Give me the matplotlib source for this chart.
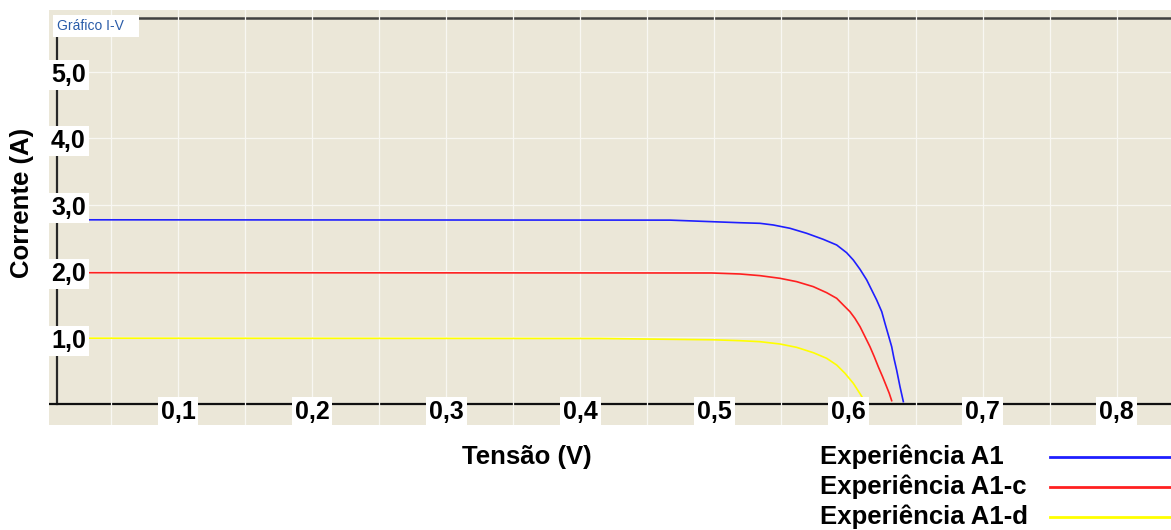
import matplotlib
matplotlib.use("Agg")
import matplotlib.pyplot as plt
from matplotlib.lines import Line2D
from matplotlib.patches import Rectangle
from matplotlib.transforms import offset_copy, blended_transform_factory

# I-V curves (tensão em V, corrente em A)
v_a1 = [0.01, 0.467, 0.5191, 0.5340, 0.5439, 0.5564, 0.5688, 0.5812, 0.5912, 0.5986, 0.6036,
        0.6086, 0.6136, 0.6173, 0.6210, 0.6248, 0.6272, 0.6297, 0.6322, 0.6339, 0.6359,
        0.6384, 0.6409]
i_a1 = [2.77, 2.765, 2.726, 2.717, 2.692, 2.642, 2.567, 2.476, 2.391, 2.275, 2.165,
        2.025, 1.865, 1.714, 1.564, 1.388, 1.213, 1.038, 0.862, 0.687, 0.511,
        0.261, 0.035]

v_a1c = [0.01, 0.498, 0.5191, 0.5340, 0.5489, 0.5613, 0.5737, 0.5837, 0.5912, 0.5961,
         0.6011, 0.6048, 0.6086, 0.6123, 0.6160, 0.6192, 0.6222, 0.6254, 0.6284, 0.6304,
         0.6322]
i_a1c = [1.975, 1.97, 1.955, 1.930, 1.890, 1.840, 1.765, 1.674, 1.589, 1.489,
         1.388, 1.288, 1.163, 1.013, 0.862, 0.712, 0.561, 0.411, 0.261, 0.160,
         0.050]

v_a1d = [0.01, 0.415, 0.500, 0.5191, 0.5340, 0.5489, 0.5613, 0.5737, 0.5837, 0.5912,
         0.5974, 0.6036, 0.6081, 0.6123]
i_a1d = [0.99, 0.985, 0.965, 0.952, 0.937, 0.902, 0.852, 0.772, 0.687, 0.586,
         0.461, 0.311, 0.170, 0.035]

series_names = ["Experiência A1", "Experiência A1-c", "Experiência A1-d"]
series_colors = ["#1f1fff", "#ff2020", "#ffff00"]

x_ticks = [0.1, 0.2, 0.3, 0.4, 0.5, 0.6, 0.7, 0.8]
x_labels = ["0,1", "0,2", "0,3", "0,4", "0,5", "0,6", "0,7", "0,8"]
x_grid = [0.05 * k for k in range(1, 17)]
y_ticks = [1.0, 2.0, 3.0, 4.0, 5.0]
y_labels = ["1,0", "2,0", "3,0", "4,0", "5,0"]

W, H = 1171, 530
BG = "#ebe7d8"
FONT = "Liberation Sans"


def fx(px):
    return px / W


def fy(py):
    return 1 - py / H


fig = plt.figure(figsize=(W / 100, H / 100), dpi=100)
ax = fig.add_axes([fx(49), fy(425), fx(1171) - fx(49), fy(10) - fy(425)])
ax.set_facecolor(BG)
ax.set_xlim(0.0038, 0.8405)
ax.set_ylim(-0.316, 5.925)
for sp in ax.spines.values():
    sp.set_visible(False)
ax.set_xticks([])
ax.set_yticks([])

# axis frame lines
v_axis = 0.0098
i_top = 5.80
ax.plot([v_axis, v_axis], [0, i_top], color="#282828", lw=1.6, zorder=1)
ax.plot([v_axis, 0.8405], [i_top, i_top], color="#404040", lw=1.8, zorder=1)
ax.axhline(0, color="#101010", lw=1.6, zorder=1)

# white grid on top of the frame
for g in x_grid:
    ax.axvline(g, color="#f8f7f2", lw=0.9, zorder=2)
for g in y_ticks:
    ax.axhline(g, color="#f8f7f2", lw=0.9, zorder=2)

for v, i, c in zip([v_a1, v_a1c, v_a1d], [i_a1, i_a1c, i_a1d], series_colors):
    ax.plot(v, i, color=c, lw=1.2, zorder=3)

box = dict(boxstyle="square,pad=0.12", fc="white", ec="none")
tx = offset_copy(ax.transData, fig=fig, x=0, y=-6, units="points")
for t, lab in zip(x_ticks, x_labels):
    ax.text(t, 0, lab, transform=tx, ha="center", va="center", fontsize=18,
            fontweight="bold", family=FONT, bbox=box, zorder=4)

ty = offset_copy(blended_transform_factory(ax.transAxes, ax.transData), fig=fig, x=1.5, y=-2.5, units="points")
for t, lab in zip(y_ticks, y_labels):
    ax.text(0.0, t, lab, transform=ty, ha="left", va="center", fontsize=18,
            fontweight="bold", family=FONT, bbox=box, zorder=4)

# title tag
fig.patches.append(Rectangle((fx(53), fy(37)), fx(139) - fx(53), fy(15) - fy(37),
                             transform=fig.transFigure, fc="white", ec="none", zorder=5))
fig.text(fx(57), fy(26), "Gráfico I-V", ha="left", va="center", fontsize=10,
         color="#2a5ca8", family=FONT, zorder=6)

fig.text(fx(22), fy(203), "Corrente (A)", rotation=90, ha="center", va="center",
         fontsize=18.5, fontweight="bold", family=FONT)
fig.text(fx(527), fy(457), "Tensão (V)", ha="center", va="center",
         fontsize=18.5, fontweight="bold", family=FONT)

# legend
for k, (name, c) in enumerate(zip(series_names, series_colors)):
    yy = 457 + 30 * k
    fig.text(fx(820), fy(yy), name, ha="left", va="center", fontsize=18.5,
             fontweight="bold", family=FONT)
    fig.lines.append(Line2D([fx(1050), fx(1171)], [fy(yy), fy(yy)],
                            transform=fig.transFigure, color=c, lw=2))

fig.savefig("out.png", dpi=100, facecolor="white")
